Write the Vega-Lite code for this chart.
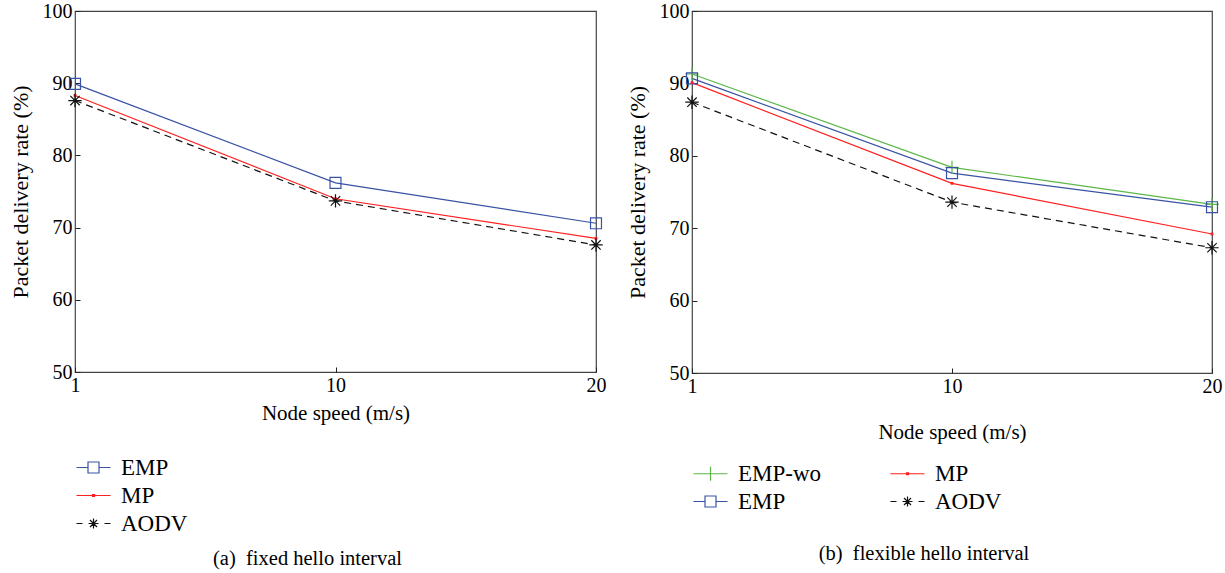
{
  "$schema": "https://vega.github.io/schema/vega-lite/v6.json",
  "padding": {"left": 8, "top": 0, "right": 5, "bottom": 2},
  "background": "white",
  "datasets": {
    "a": [
      {"speed": "1", "series": "EMP", "rate": 89.9},
      {"speed": "10", "series": "EMP", "rate": 76.2},
      {"speed": "20", "series": "EMP", "rate": 70.6},
      {"speed": "1", "series": "MP", "rate": 88.3},
      {"speed": "10", "series": "MP", "rate": 74.0},
      {"speed": "20", "series": "MP", "rate": 68.5},
      {"speed": "1", "series": "AODV", "rate": 87.6},
      {"speed": "10", "series": "AODV", "rate": 73.7},
      {"speed": "20", "series": "AODV", "rate": 67.6}
    ],
    "b": [
      {"speed": "1", "series": "EMP-wo", "rate": 91.3},
      {"speed": "10", "series": "EMP-wo", "rate": 78.4},
      {"speed": "20", "series": "EMP-wo", "rate": 73.3},
      {"speed": "1", "series": "EMP", "rate": 90.7},
      {"speed": "10", "series": "EMP", "rate": 77.6},
      {"speed": "20", "series": "EMP", "rate": 72.9},
      {"speed": "1", "series": "MP", "rate": 90.1},
      {"speed": "10", "series": "MP", "rate": 76.2},
      {"speed": "20", "series": "MP", "rate": 69.2},
      {"speed": "1", "series": "AODV", "rate": 87.4},
      {"speed": "10", "series": "AODV", "rate": 73.6},
      {"speed": "20", "series": "AODV", "rate": 67.3}
    ]
  },
  "config": {
    "font": "Liberation Serif",
    "view": {"stroke": "#444444", "strokeWidth": 1.2},
    "axis": {
      "labelFont": "Liberation Serif", "titleFont": "Liberation Serif",
      "labelFontSize": 20, "titleFontSize": 21, "titleFontWeight": "normal",
      "labelColor": "black", "titleColor": "black", "tickColor": "#222222",
      "domain": false, "grid": false, "tickSize": -5, "labelPadding": 8
    },
    "legend": {"labelFont": "Liberation Serif", "labelFontSize": 23, "labelColor": "black"}
  },
  "resolve": {"scale": {"color": "independent", "shape": "independent"}},
  "hconcat": [
    {
      "width": 521, "height": 361,
      "data": {"name": "a"},
      "title": {"text": "(a)\u2002fixed hello interval", "orient": "bottom", "anchor": "middle", "frame": "bounds", "font": "Liberation Serif", "fontSize": 20.5, "fontWeight": "normal", "color": "black", "offset": 13},
      "encoding": {
        "x": {"field": "speed", "type": "ordinal", "sort": ["1", "10", "20"], "scale": {"type": "point", "padding": 0}, "axis": {"title": "Node speed (m/s)", "labelAngle": 0, "titlePadding": 7}},
        "y": {"field": "rate", "type": "quantitative", "scale": {"domain": [50, 100]}, "axis": {"title": "Packet delivery rate (%)", "titleFontSize": 22, "values": [50, 60, 70, 80, 90, 100], "titlePadding": 10}}
      },
      "layer": [
        {"transform": [{"filter": "datum.series !== 'AODV'"}],
         "mark": {"type": "line", "strokeWidth": 1.2},
         "encoding": {"color": {"field": "series", "type": "nominal", "scale": {"domain": ["EMP", "MP", "AODV"], "range": ["#3953a4", "#ff1f1f", "#111111"]},
             "legend": {"title": null, "orient": "none", "legendX": 0, "legendY": 445, "symbolSize": 400, "symbolStrokeWidth": 1.2, "rowPadding": 4, "labelOffset": 23, "padding": 0, "labelFontSize": 23, "labelFont": "Liberation Serif", "labelColor": "black"}}}},
        {"transform": [{"filter": "datum.series === 'AODV'"}],
         "mark": {"type": "line", "strokeWidth": 1.2, "color": "#111111", "strokeDash": [7, 5]}},
        {"transform": [{"filter": "datum.series === 'EMP'"}],
         "mark": {"type": "point", "filled": false, "size": 120, "strokeWidth": 1.2, "opacity": 1, "shape": "square", "color": "#3953a4"}},
        {"transform": [{"filter": "datum.series === 'MP'"}],
         "mark": {"type": "point", "filled": false, "size": 120, "strokeWidth": 1.5, "opacity": 1, "shape": "M-0.12,-0.12H0.12V0.12H-0.12Z", "color": "#ff1f1f"}},
        {"transform": [{"filter": "datum.series === 'AODV'"}],
         "mark": {"type": "point", "filled": false, "size": 180, "strokeWidth": 1.2, "opacity": 1, "shape": "M-1,0H1M0,-1V1M-0.7,-0.7L0.7,0.7M-0.7,0.7L0.7,-0.7", "color": "#111111"}},
        {"mark": {"type": "point", "filled": false, "size": 0, "strokeWidth": 1.2, "opacity": 1},
         "encoding": {
           "color": {"field": "series", "type": "nominal", "scale": {"domain": ["EMP", "MP", "AODV"], "range": ["#3953a4", "#ff1f1f", "#111111"]},
             "legend": {"title": null, "orient": "none", "legendX": 0, "legendY": 445, "symbolSize": 400, "symbolStrokeWidth": 1.2, "rowPadding": 4, "labelOffset": 23, "padding": 0, "labelFontSize": 23, "labelFont": "Liberation Serif", "labelColor": "black"}},
           "shape": {"field": "series", "type": "nominal", "scale": {"domain": ["EMP", "MP", "AODV"], "range": ["M-1,0H0.15M1.25,0H2.4M0.15,-0.55H1.25V0.55H0.15Z", "M-1,0H2.4M0.6,-0.1H0.8V0.1H0.6Z", "M-1,0H-0.4M0.2,0H1.2M1.8,0H2.4M0.7,-0.5V0.5M0.35,-0.35L1.05,0.35M0.35,0.35L1.05,-0.35"]}, "legend": null}}}
      ]
    },
    {
      "width": 520, "height": 362,
      "data": {"name": "b"},
      "title": {"text": "(b)\u2002flexible hello interval", "orient": "bottom", "anchor": "middle", "frame": "bounds", "font": "Liberation Serif", "fontSize": 20.5, "fontWeight": "normal", "color": "black", "offset": 30},
      "encoding": {
        "x": {"field": "speed", "type": "ordinal", "sort": ["1", "10", "20"], "scale": {"type": "point", "padding": 0}, "axis": {"title": "Node speed (m/s)", "labelAngle": 0, "titlePadding": 25}},
        "y": {"field": "rate", "type": "quantitative", "scale": {"domain": [50, 100]}, "axis": {"title": "Packet delivery rate (%)", "titleFontSize": 22, "values": [50, 60, 70, 80, 90, 100], "titlePadding": 10}}
      },
      "layer": [
        {"transform": [{"filter": "datum.series !== 'AODV'"}],
         "mark": {"type": "line", "strokeWidth": 1.2},
         "encoding": {"color": {"field": "series", "type": "nominal", "scale": {"domain": ["EMP-wo", "EMP", "MP", "AODV"], "range": ["#5cb648", "#3953a4", "#ff1f1f", "#111111"]},
             "legend": {"title": null, "orient": "none", "legendX": 0, "legendY": 451, "columns": 2, "columnPadding": 66, "symbolSize": 400, "symbolStrokeWidth": 1.2, "rowPadding": 4, "labelOffset": 23, "padding": 0, "labelFontSize": 23, "labelFont": "Liberation Serif", "labelColor": "black"}}}},
        {"transform": [{"filter": "datum.series === 'AODV'"}],
         "mark": {"type": "line", "strokeWidth": 1.2, "color": "#111111", "strokeDash": [7, 5]}},
        {"transform": [{"filter": "datum.series === 'EMP-wo'"}],
         "mark": {"type": "point", "filled": false, "size": 180, "strokeWidth": 1.2, "opacity": 1, "shape": "M-1,0H1M0,-1V1", "color": "#5cb648"}},
        {"transform": [{"filter": "datum.series === 'EMP'"}],
         "mark": {"type": "point", "filled": false, "size": 120, "strokeWidth": 1.2, "opacity": 1, "shape": "square", "color": "#3953a4"}},
        {"transform": [{"filter": "datum.series === 'MP'"}],
         "mark": {"type": "point", "filled": false, "size": 120, "strokeWidth": 1.5, "opacity": 1, "shape": "M-0.12,-0.12H0.12V0.12H-0.12Z", "color": "#ff1f1f"}},
        {"transform": [{"filter": "datum.series === 'AODV'"}],
         "mark": {"type": "point", "filled": false, "size": 180, "strokeWidth": 1.2, "opacity": 1, "shape": "M-1,0H1M0,-1V1M-0.7,-0.7L0.7,0.7M-0.7,0.7L0.7,-0.7", "color": "#111111"}},
        {"mark": {"type": "point", "filled": false, "size": 0, "strokeWidth": 1.2, "opacity": 1},
         "encoding": {
           "color": {"field": "series", "type": "nominal", "scale": {"domain": ["EMP-wo", "EMP", "MP", "AODV"], "range": ["#5cb648", "#3953a4", "#ff1f1f", "#111111"]},
             "legend": {"title": null, "orient": "none", "legendX": 0, "legendY": 451, "columns": 2, "columnPadding": 66, "symbolSize": 400, "symbolStrokeWidth": 1.2, "rowPadding": 4, "labelOffset": 23, "padding": 0, "labelFontSize": 23, "labelFont": "Liberation Serif", "labelColor": "black"}},
           "shape": {"field": "series", "type": "nominal", "scale": {"domain": ["EMP-wo", "EMP", "MP", "AODV"], "range": ["M-1,0H2.4M0.7,-0.7V0.7", "M-1,0H0.15M1.25,0H2.4M0.15,-0.55H1.25V0.55H0.15Z", "M-1,0H2.4M0.6,-0.1H0.8V0.1H0.6Z", "M-1,0H-0.4M0.2,0H1.2M1.8,0H2.4M0.7,-0.5V0.5M0.35,-0.35L1.05,0.35M0.35,0.35L1.05,-0.35"]}, "legend": null}}}
      ]
    }
  ],
  "spacing": 18
}
